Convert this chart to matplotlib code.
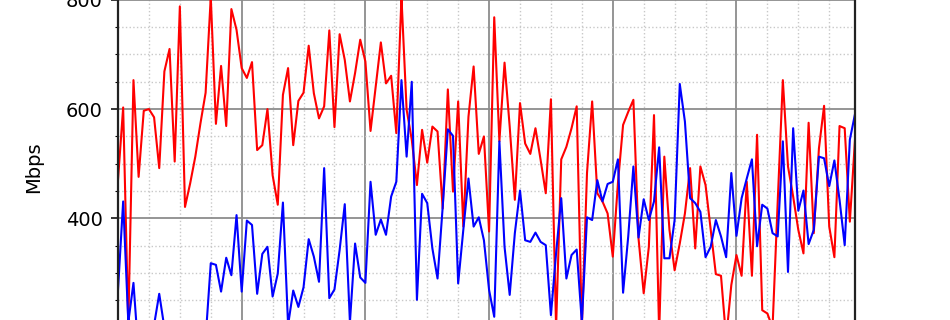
import numpy as np
import matplotlib.pyplot as plt
from matplotlib.ticker import MultipleLocator

# hourly samples, 6 days
hours = np.arange(144)

red_mbps = [
    470, 603, 205, 653, 476, 597, 600, 585, 492, 669, 710, 504, 788, 421, 464, 513,
    574, 630, 805, 573, 679, 569, 783, 745, 675, 657, 686, 525, 534, 600, 479, 425,
    626, 675, 534, 615, 630, 716, 629, 583, 605, 744, 567, 737, 690, 614, 666, 727,
    687, 560, 641, 722, 647, 661, 556, 805, 599, 544, 461, 562, 502, 568, 559, 418,
    636, 449, 614, 385, 586, 678, 518, 550, 376, 768, 541, 685, 568, 434, 611, 537,
    518, 565, 507, 446, 618, 200, 508, 531, 565, 605, 200, 483, 614, 446, 431, 409,
    330, 464, 571, 595, 617, 363, 263, 348, 589, 190, 513, 379, 305, 354, 409, 492,
    345, 495, 461, 379, 298, 295, 180, 278, 333, 295, 467, 295, 553, 232, 226, 200,
    430, 653, 495, 440, 379, 336, 575, 373, 528, 606, 385, 329, 569, 565, 394, 544,
]

blue_mbps = [
    269, 431, 210, 282, 150, 150, 170, 205, 262, 200, 160, 150, 170, 160, 180, 150,
    170, 180, 318, 315, 266, 328, 296, 406, 266, 396, 388, 262, 335, 348, 257, 299,
    429, 205, 268, 238, 274, 362, 330, 284, 492, 254, 270, 342, 426, 210, 354, 292,
    282, 467, 370, 398, 370, 440, 467, 653, 513, 650, 251, 445, 428, 345, 290, 421,
    563, 551, 281, 379, 473, 385, 402, 360, 269, 220, 541, 348, 260, 373, 451, 360,
    357, 374, 357, 351, 223, 336, 437, 290, 333, 343, 210, 402, 397, 470, 431, 463,
    467, 508, 264, 367, 495, 365, 435, 397, 431, 530, 327, 327, 397, 646, 577, 437,
    428, 412, 329, 348, 397, 367, 329, 483, 368, 437, 473, 508, 349, 425, 418, 373,
    367, 541, 302, 565, 414, 451, 353, 379, 513, 510, 459, 506, 434, 351, 544, 591,
]

fig = plt.figure(figsize=(9.5, 3.2), dpi=100)
# only the upper part of the axes falls inside the picture
ax = fig.add_axes([118 / 950, -0.3656, 737 / 950, 1.7078])

ax.plot(hours, red_mbps, color="red", linewidth=1.5)
ax.plot(hours, blue_mbps, color="blue", linewidth=1.5)

ax.set_xlim(0, 143)
ax.set_ylim(0, 1000)
ax.xaxis.set_major_locator(MultipleLocator(24))
ax.xaxis.set_minor_locator(MultipleLocator(6))
ax.yaxis.set_major_locator(MultipleLocator(200))
ax.yaxis.set_minor_locator(MultipleLocator(50))

ax.grid(which="major", color="#8c8c8c", linewidth=1.3)
ax.grid(which="minor", color="#c8c8c8", linewidth=1.0, linestyle=":")
ax.set_axisbelow(True)

ax.tick_params(which="major", direction="out", length=5, width=1.1,
               labelsize=14, pad=6)
ax.tick_params(which="minor", direction="out", length=2.2, width=0.8)
for spine in ax.spines.values():
    spine.set_linewidth(1.6)
    spine.set_color("#222222")

ax.set_ylabel("Mbps", fontsize=14)
ax.yaxis.set_label_coords(-0.102, 0.494)

fig.savefig("out.png", dpi=100)
